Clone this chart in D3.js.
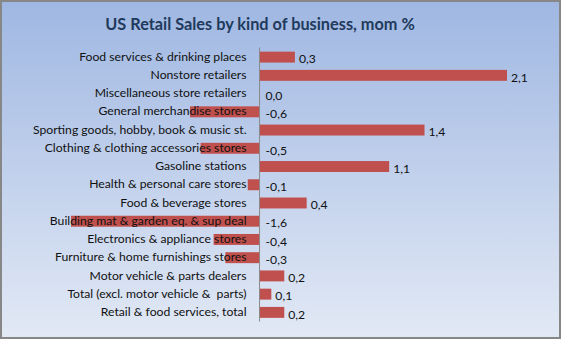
<!DOCTYPE html>
<html><head><meta charset="utf-8">
<script src="https://cdn.jsdelivr.net/npm/d3@7"></script>
<style>html,body{margin:0;padding:0;background:#fff;}svg{display:block;} text{white-space:pre;}</style>
</head><body><div id="chart"></div>
<script>
const categories = [
  "Food services & drinking places",
  "Nonstore retailers",
  "Miscellaneous store retailers",
  "General merchandise stores",
  "Sporting goods, hobby, book & music st.",
  "Clothing & clothing accessories stores",
  "Gasoline stations",
  "Health & personal care stores",
  "Food & beverage stores",
  "Building mat & garden eq. & sup deal",
  "Electronics & appliance stores",
  "Furniture & home furnishings stores",
  "Motor vehicle & parts dealers",
  "Total (excl. motor vehicle &  parts)",
  "Retail & food services, total"
];
const values = [0.3, 2.1, 0.0, -0.59, 1.4, -0.5, 1.1, -0.1, 0.4, -1.6, -0.39, -0.29, 0.21, 0.1, 0.21];
const labels = ["0,3","2,1","0,0","-0,6","1,4","-0,5","1,1","-0,1","0,4","-1,6","-0,4","-0,3","0,2","0,1","0,2"];
const title = "US Retail Sales by kind of business, mom %";

const W = 562, H = 341;
const svg = d3.select("#chart").append("svg").attr("width", W).attr("height", H);
const defs = svg.append("defs");
const grad = defs.append("linearGradient").attr("id","bg").attr("x1",0).attr("y1",0).attr("x2",0).attr("y2",1);
grad.append("stop").attr("offset","0%").attr("stop-color","#9fb7e2");
grad.append("stop").attr("offset","100%").attr("stop-color","#e2e9f5");

svg.append("rect").attr("x",1).attr("y",1).attr("width",559).attr("height",337)
  .attr("fill","url(#bg)").attr("stroke","#878787").attr("stroke-width",2);

svg.append("text").attr("x",260).attr("y",30).attr("text-anchor","middle")
  .attr("font-family","Lato, 'Open Sans', sans-serif").attr("font-weight","bold").attr("font-size",16.3)
  .attr("fill","#1f3a5c").text(title);

const x = d3.scaleLinear().domain([-1.6, 2.1]).range([71, 507]);
const y = d3.scaleBand().domain(categories).range([48, 321.5]).paddingInner(0.4).paddingOuter(0.2);

const font = "Lato, 'Open Sans', sans-serif";
const fs = 12.2;

// bars
svg.append("g").selectAll("rect").data(values).join("rect")
  .attr("x", d => x(Math.min(0,d)))
  .attr("width", d => Math.abs(x(d) - x(0)))
  .attr("y", (d,i) => y(categories[i]))
  .attr("height", y.bandwidth())
  .attr("fill", "#c0504d");

// category axis (labels on left of zero line)
const axis = d3.axisLeft(y).tickSize(0).tickPadding(13);
const ag = svg.append("g").attr("transform", `translate(${x(0)},0)`).call(axis);
ag.select(".domain").attr("stroke","#8a8a8a").attr("stroke-width",1).attr("d", `M0,47.5V321.5`);
ag.selectAll("text").attr("font-family", font).attr("font-size", fs).attr("fill","#111").attr("dy","0.3em");

// data labels
svg.append("g").selectAll("text").data(values).join("text")
  .attr("x", d => d > 0 ? x(d) + 4 : x(0) + 6)
  .attr("y", (d,i) => y(categories[i]) + y.bandwidth()/2 + 2)
  .attr("dy","0.35em")
  .attr("font-family", font).attr("font-size", fs).attr("fill","#111")
  .text((d,i) => labels[i]);
</script></body></html>
